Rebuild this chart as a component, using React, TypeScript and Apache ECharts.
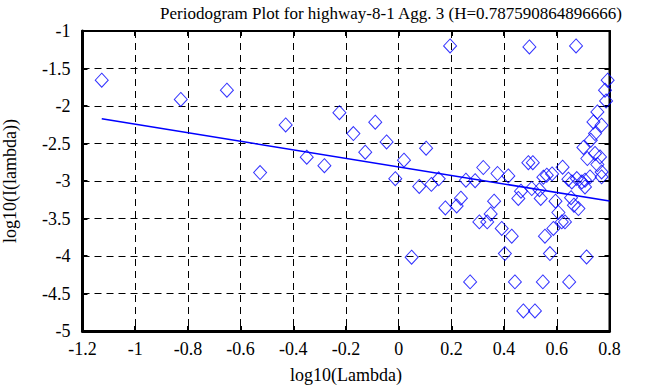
import React, { useEffect, useRef } from "react";
import * as echarts from "echarts";

const titleText = "Periodogram Plot for highway-8-1 Agg. 3 (H=0.787590864896666)";
const xName = "log10(Lambda)";
const yName = "log10(I(lambda))";

const logLambda = [
  -1.127, -0.827, -0.652, -0.526, -0.429, -0.349, -0.282, -0.225, -0.172, -0.127,
  -0.089, -0.046, -0.013, 0.02, 0.049, 0.078, 0.104, 0.124, 0.152, 0.177,
  0.195, 0.22, 0.236, 0.255, 0.271, 0.29, 0.306, 0.321, 0.336, 0.349,
  0.362, 0.375, 0.391, 0.403, 0.416, 0.429, 0.441, 0.454, 0.464, 0.473,
  0.492, 0.496, 0.509, 0.505, 0.517, 0.534, 0.539, 0.547, 0.555, 0.562,
  0.574, 0.582, 0.587, 0.595, 0.606, 0.619, 0.622, 0.631, 0.644, 0.647,
  0.654, 0.665, 0.673, 0.676, 0.682, 0.701, 0.707, 0.707, 0.713, 0.716,
  0.726, 0.729, 0.739, 0.745, 0.745, 0.754, 0.754, 0.764, 0.77, 0.77,
  0.783, 0.787, 0.793, 0.695, 0.657, 0.549, 0.77,
];
const logPeriodogram = [
  -1.656, -1.913, -1.789, -2.887, -2.252, -2.683, -2.796, -2.089, -2.367, -2.616,
  -2.216, -2.479, -2.969, -2.723, -4.016, -3.072, -2.563, -3.045, -2.971, -3.359,
  -1.199, -3.332, -3.229, -2.989, -4.345, -2.996, -3.545, -2.82, -3.545, -3.439,
  -3.269, -2.9, -3.633, -3.967, -2.932, -3.736, -4.345, -3.233, -3.136, -4.732,
  -2.756, -1.212, -2.756, -3.1, -4.732, -3.116, -3.233, -4.345, -3.736, -2.923,
  -3.967, -2.905, -3.633, -3.269, -3.42, -3.545, -2.816, -3.545, -2.976, -4.345,
  -3.223, -3.323, -1.199, -2.967, -3.367, -2.553, -2.989, -3.079, -4.012, -2.7,
  -2.945, -2.456, -2.212, -2.367, -2.633, -2.079, -2.78, -2.679, -2.256, -2.879,
  -1.789, -1.932, -1.656, -3.012, -3.012, -2.949, -2.945,
];
const fitX = [-1.127, 0.8];
const fitY = [-2.169, -3.268];

const xTicks = { min: -1.2, max: 0.8, interval: 0.2 };
const yTicks = { min: -5, max: -1, interval: 0.5 };

const FONT = "Liberation Serif";

export default function App() {
  const ref = useRef<HTMLDivElement>(null);
  useEffect(() => {
    if (!ref.current) return;
    const chart = echarts.init(ref.current, null, { renderer: "svg" });
    const fmt = (v: number) => String(parseFloat(v.toFixed(2)));
    const tickStyle = { inside: true, length: 5, lineStyle: { color: "#000", width: 2 } };
    const gridLine = { show: true, lineStyle: { color: "#000", type: [7, 5], width: 1 } };
    const axisText = { color: "#000", fontFamily: FONT, fontSize: 18 };
    chart.setOption({
      animation: false,
      backgroundColor: "#fff",
      title: {
        text: titleText,
        left: 386,
        textAlign: "center",
        top: 0,
        textStyle: { fontFamily: FONT, fontSize: 17, fontWeight: "normal", color: "#000" },
      },
      grid: {
        left: 82.5,
        right: 48.5,
        top: 31,
        bottom: 56,
        show: true,
        borderColor: "#000",
        borderWidth: 2,
        backgroundColor: "transparent",
        containLabel: false,
        outerBoundsMode: "none",
      },
      xAxis: [
        {
          type: "value",
          position: "bottom",
          ...xTicks,
          name: xName,
          nameLocation: "middle",
          nameGap: 35,
          nameTextStyle: axisText,
          axisLine: { show: true, onZero: false, lineStyle: { color: "#000", width: 3 } },
          axisTick: tickStyle,
          axisLabel: { ...axisText, margin: 9, formatter: fmt, showMinLabel: true, showMaxLabel: true, hideOverlap: false },
          splitLine: gridLine,
        },
        {
          type: "value",
          position: "top",
          ...xTicks,
          axisLine: { show: true, onZero: false, lineStyle: { color: "#000", width: 2 } },
          axisTick: tickStyle,
          axisLabel: { show: false },
          splitLine: { show: false },
        },
      ],
      yAxis: [
        {
          type: "value",
          position: "left",
          ...yTicks,
          name: yName,
          nameLocation: "middle",
          nameGap: 64,
          nameRotate: 90,
          nameTextStyle: axisText,
          axisLine: { show: true, onZero: false, lineStyle: { color: "#000", width: 3 } },
          axisTick: tickStyle,
          axisLabel: { ...axisText, margin: 12, formatter: fmt, showMinLabel: true, showMaxLabel: true, hideOverlap: false },
          splitLine: gridLine,
        },
        {
          type: "value",
          position: "right",
          ...yTicks,
          axisLine: { show: true, onZero: false, lineStyle: { color: "#000", width: 2 } },
          axisTick: tickStyle,
          axisLabel: { show: false },
          splitLine: { show: false },
        },
      ],
      series: [
        {
          type: "scatter",
          xAxisIndex: 0,
          yAxisIndex: 0,
          symbol: "diamond",
          symbolSize: [13, 14],
          itemStyle: { color: "transparent", borderColor: "#0000ff", borderWidth: 1 },
          data: logLambda.map((x, i) => [x, logPeriodogram[i]]),
          z: 3,
        },
        {
          type: "line",
          xAxisIndex: 0,
          yAxisIndex: 0,
          showSymbol: false,
          symbol: "none",
          lineStyle: { color: "#0000ff", width: 1.5 },
          data: fitX.map((x, i) => [x, fitY[i]]),
          z: 4,
        },
      ],
    });
    return () => chart.dispose();
  }, []);
  return (
    <div
      ref={ref}
      style={{ position: "fixed", left: 0, top: 0, width: 658, height: 387, background: "#fff" }}
    />
  );
}
